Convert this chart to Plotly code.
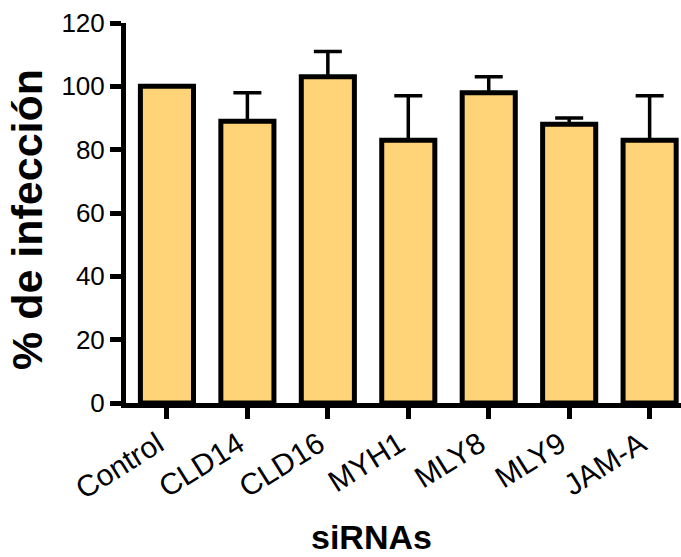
import plotly.graph_objects as go

categories = ["Control", "CLD14", "CLD16", "MYH1", "MLY8", "MLY9", "JAM-A"]
values = [100, 89, 103, 83, 98, 88, 83]
errors_up = [0, 9, 8, 14, 5, 2, 14]
y_ticks = [0, 20, 40, 60, 80, 100, 120]

W, H = 681, 557
ml, mr, mt, mb = 126, 0, 23, 154
pw = W - ml - mr
ph = H - mt - mb

fig = go.Figure()
fig.add_trace(go.Bar(
    x=list(range(len(categories))),
    y=values,
    width=0.66,
    marker=dict(color="#FFD479", line=dict(color="black", width=5)),
    error_y=dict(type="data", symmetric=False, array=errors_up,
                 arrayminus=[0] * len(values), color="black",
                 thickness=3.5, width=14),
))

font = "Liberation Sans, Arial, Helvetica, sans-serif"

fig.update_layout(
    template="none",
    width=W, height=H,
    margin=dict(l=ml, r=mr, t=mt, b=mb, pad=0, autoexpand=False),
    plot_bgcolor="white", paper_bgcolor="white",
    showlegend=False,
    font=dict(family=font, color="black"),
    xaxis=dict(
        automargin=False,
        range=[-0.509, 6.39],
        tickmode="array",
        tickvals=list(range(len(categories))),
        ticktext=categories,
        tickangle=-32,
        tickfont=dict(size=30, color="black"),
        ticklabelshift=-9,
        ticklabelstandoff=-4,
        showline=True, linecolor="black", linewidth=5,
        ticks="outside", ticklen=11, tickwidth=5, tickcolor="black",
        showgrid=False, zeroline=False,
    ),
    yaxis=dict(
        automargin=False,
        range=[0, 120],
        tickmode="array",
        tickvals=y_ticks,
        tickfont=dict(size=26, color="black"),
        showline=True, linecolor="black", linewidth=5,
        ticks="outside", ticklen=11, tickwidth=5, tickcolor="black",
        showgrid=False, zeroline=False,
    ),
    annotations=[
        dict(text="<b>% de infección</b>", textangle=-90,
             xref="paper", yref="paper",
             x=(27 - ml) / pw, y=(mt + ph - 220) / ph,
             xanchor="center", yanchor="middle", showarrow=False,
             font=dict(size=43, color="black", family=font)),
        dict(text="<b>siRNAs</b>",
             xref="paper", yref="paper",
             x=(371 - ml) / pw, y=(mt + ph - 537) / ph,
             xanchor="center", yanchor="middle", showarrow=False,
             font=dict(size=34, color="black", family=font)),
    ],
)

fig.write_html("out.html",
               config={"displayModeBar": False},
               post_script="document.body.style.margin='0px';document.body.style.overflow='hidden';")
